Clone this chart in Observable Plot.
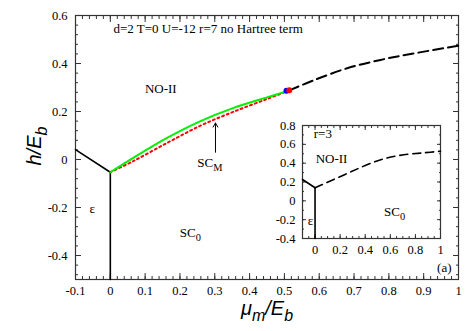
<!DOCTYPE html>
<html>
<head>
<meta charset="utf-8">
<script src="https://cdn.jsdelivr.net/npm/d3@7"></script>
<script src="https://cdn.jsdelivr.net/npm/@observablehq/plot@0.6"></script>
<style>
  html, body { margin: 0; padding: 0; background: #fff; }
  #chart { position: relative; width: 473px; height: 331px; overflow: hidden; background: #fff; }
  #chart svg { position: absolute; }
</style>
</head>
<body>
<div id="chart"></div>
<script>
// ---------- main panel data (μm/Eb , h/Eb) ----------
const mainBoundaryMu = [-0.1, 0];
const mainBoundaryH  = [0.041, -0.053];
const mainVerticalMu = [0, 0];
const mainVerticalH  = [-0.053, -0.5];
const greenMu = [0, 0.067, 0.163, 0.259, 0.354, 0.45, 0.506];
const greenH  = [-0.053, 0.008, 0.090, 0.160, 0.215, 0.259, 0.284];
const redMu = [0, 0.067, 0.163, 0.259, 0.354, 0.45, 0.514];
const redH  = [-0.053, -0.006, 0.069, 0.141, 0.199, 0.252, 0.288];
const dashedMu = [0.514, 0.584, 0.68, 0.776, 0.872, 1.0];
const dashedH  = [0.288, 0.330, 0.380, 0.415, 0.442, 0.474];
const pointMu = [0.506, 0.514];
const pointH  = [0.286, 0.289];
const pointColor = ["#0000ff", "#ff0000"];

// ---------- inset data (r=3) ----------
const insetBoundaryMu = [-0.1, 0];
const insetBoundaryH  = [0.227, 0.139];
const insetVerticalMu = [0, 0];
const insetVerticalH  = [0.139, -0.4];
const insetDashedMu = [0, 0.25, 0.4, 0.547, 0.707, 0.867, 1.0];
const insetDashedH  = [0.139, 0.287, 0.375, 0.446, 0.489, 0.510, 0.527];

// ---------- ticks ----------
const xTicks = [-0.1, 0, 0.1, 0.2, 0.3, 0.4, 0.5, 0.6, 0.7, 0.8, 0.9, 1];
const xTickLabels = ["-0.1", "0", "0.1", "0.2", "0.3", "0.4", "0.5", "0.6", "0.7", "0.8", "0.9", "1"];
const yTicks = [-0.4, -0.2, 0, 0.2, 0.4, 0.6];
const yTickLabels = ["-0.4", "-0.2", "0", "0.2", "0.4", "0.6"];
const insetXTicks = [0, 0.2, 0.4, 0.6, 0.8, 1];
const insetXTickLabels = ["0", "0.2", "0.4", "0.6", "0.8", "1"];
const insetYTicks = [-0.4, -0.2, 0, 0.2, 0.4, 0.6, 0.8];
const insetYTickLabels = ["-0.4", "-0.2", "0", "0.2", "0.4", "0.6", "0.8"];

// ---------- annotations ----------
const mainLabelText = ["d=2 T=0 U=-12 r=7 no Hartree term", "NO-II", "ε", "SC_{0}", "SC_{M}", "(a)"];
const mainLabelMu   = [0.009, 0.145, -0.052, 0.23, 0.25, 0.98];
const mainLabelH    = [0.546, 0.296, -0.204, -0.304, -0.012, -0.453];
const mainLabelAnchor = ["start", "middle", "middle", "middle", "start", "end"];
const arrowMu = [0.302, 0.302];
const arrowH  = [0.03, 0.152];
const insetLabelText = ["r=3", "NO-II", "ε", "SC_{0}"];
const insetLabelMu   = [-0.01, 0.005, -0.058, 0.55];
const insetLabelH    = [0.715, 0.443, -0.217, -0.12];
const yTitle = "h/E_{b}";
const xTitle = "μ_{m}/E_{b}";

const zip = (xs, ys) => xs.map((x, i) => ({x, y: ys[i]}));
const serif = "Liberation Serif";
const sans = "Liberation Sans";

function inwardTicks(xv, yv, size, color) {
  const common = {fill: "none", stroke: color, label: null, strokeWidth: 1};
  return [
    Plot.axisX(xv, {...common, anchor: "bottom", tickSize: size, dy: -size}),
    Plot.axisX(xv, {...common, anchor: "top", tickSize: size, dy: size}),
    Plot.axisY(yv, {...common, anchor: "left", tickSize: size, dx: size}),
    Plot.axisY(yv, {...common, anchor: "right", tickSize: size, dx: -size})
  ];
}
function labelMap(vals, labels) { const m = new Map(vals.map((v, i) => [v, labels[i]])); return v => m.get(v); }

const frameColor = "#333";

// minor tick positions
const xMinor = d3.range(-5, 51).map(i => i / 50);
const yMinor = d3.range(-12, 16).map(i => i / 25);
const insetXMinor = d3.range(-2, 21).map(i => i / 20);
const insetYMinor = d3.range(-4, 9).map(i => i / 10);

const mainLabels = mainLabelText.map((t, i) => ({t, x: mainLabelMu[i], y: mainLabelH[i], a: mainLabelAnchor[i]}));
const labelMarks = ["start", "middle", "end"].map(a =>
  Plot.text(mainLabels.filter(d => d.a === a), {x: "x", y: "y", text: "t", textAnchor: a, fontSize: 13, fill: "#000"}));

const main = Plot.plot({
  width: 473, height: 331,
  marginLeft: 75, marginRight: 15, marginTop: 15, marginBottom: 52,
  x: {domain: [-0.1, 1]},
  y: {domain: [-0.5, 0.6]},
  style: {fontSize: "12.5px", color: "#000", background: "transparent"},
  marks: [
    ...inwardTicks(xMinor, yMinor, 3, frameColor),
    ...inwardTicks(xTicks, yTicks, 6, frameColor),
    Plot.frame({stroke: frameColor, strokeWidth: 1.2}),
    Plot.axisX(xTicks, {anchor: "bottom", tickSize: 0, tickPadding: 7, tickFormat: labelMap(xTicks, xTickLabels), label: null, fontSize: 12.5, fill: "#000"}),
    Plot.axisY(yTicks, {anchor: "left", tickSize: 0, tickPadding: 8, tickFormat: labelMap(yTicks, yTickLabels), label: null, fontSize: 12.5, fill: "#000"}),
    Plot.line(zip(mainBoundaryMu, mainBoundaryH), {x: "x", y: "y", stroke: "#000", strokeWidth: 1.6}),
    Plot.line(zip(mainVerticalMu, mainVerticalH), {x: "x", y: "y", stroke: "#000", strokeWidth: 1.6}),
    Plot.line(zip(redMu, redH), {x: "x", y: "y", stroke: "#ff0000", strokeWidth: 2, strokeDasharray: "2,3", curve: "catmull-rom"}),
    Plot.line(zip(greenMu, greenH), {x: "x", y: "y", stroke: "#00f000", strokeWidth: 2, curve: "catmull-rom"}),
    Plot.line(zip(dashedMu, dashedH), {x: "x", y: "y", stroke: "#000", strokeWidth: 2, strokeDasharray: "10,5", curve: "catmull-rom"}),
    Plot.dot(pointMu.map((m, i) => ({x: m, y: pointH[i], c: pointColor[i]})), {x: "x", y: "y", fill: "c", r: 3, stroke: "none"}),
    Plot.arrow([{x1: arrowMu[0], y1: arrowH[0], x2: arrowMu[1], y2: arrowH[1]}], {x1: "x1", y1: "y1", x2: "x2", y2: "y2", stroke: "#000", strokeWidth: 1, headLength: 7}),
    ...labelMarks,
    Plot.text([yTitle], {text: d => d, frameAnchor: "left", textAnchor: "middle", dx: -40, rotate: -90, fontSize: 20, fontStyle: "italic", fill: "#000"}),
    Plot.text([xTitle], {text: d => d, frameAnchor: "bottom", textAnchor: "middle", dy: 35, fontSize: 20, fontStyle: "italic", fill: "#000"})
  ]
});
main.style.left = "0px"; main.style.top = "0px";

const insetLabels = insetLabelText.map((t, i) => ({t, x: insetLabelMu[i], y: insetLabelH[i]}));

const inset = Plot.plot({
  width: 190, height: 150,
  marginLeft: 42, marginRight: 10, marginTop: 10, marginBottom: 27,
  x: {domain: [-0.1, 1]},
  y: {domain: [-0.4, 0.8]},
  style: {fontSize: "12.5px", color: "#000", background: "transparent"},
  marks: [
    ...inwardTicks(insetXMinor, insetYMinor, 2, frameColor),
    ...inwardTicks(insetXTicks, insetYTicks, 4, frameColor),
    Plot.frame({stroke: frameColor, strokeWidth: 1.2}),
    Plot.axisX(insetXTicks, {anchor: "bottom", tickSize: 0, tickPadding: 7, tickFormat: labelMap(insetXTicks, insetXTickLabels), label: null, fontSize: 12.5, fill: "#000"}),
    Plot.axisY(insetYTicks, {anchor: "left", tickSize: 0, tickPadding: 7, tickFormat: labelMap(insetYTicks, insetYTickLabels), label: null, fontSize: 12.5, fill: "#000"}),
    Plot.line(zip(insetBoundaryMu, insetBoundaryH), {x: "x", y: "y", stroke: "#000", strokeWidth: 1.6}),
    Plot.line(zip(insetVerticalMu, insetVerticalH), {x: "x", y: "y", stroke: "#000", strokeWidth: 1.6}),
    Plot.line(zip(insetDashedMu, insetDashedH), {x: "x", y: "y", stroke: "#000", strokeWidth: 1.6, strokeDasharray: "8,5", curve: "catmull-rom"}),
    Plot.text(insetLabels, {x: "x", y: "y", text: "t", textAnchor: "start", fontSize: 13, fill: "#000"})
  ]
});
inset.style.left = "260px"; inset.style.top = "115px";

const chart = document.getElementById("chart");
chart.appendChild(main);
chart.appendChild(inset);

// fonts: italic axis titles in sans, everything else in a Times-like serif
d3.selectAll("#chart text").each(function () {
  const italic = getComputedStyle(this).fontStyle === "italic";
  this.style.fontFamily = italic ? `"${sans}", sans-serif` : `"${serif}", serif`;
});

// render "_{...}" as subscripts
let yTitleNode = null;
d3.selectAll("#chart text").each(function () {
  const t = this.textContent;
  if (!t.includes("_{")) return;
  if (t === yTitle) yTitleNode = this;
  const fs = parseFloat(getComputedStyle(this).fontSize) || 12;
  const sel = d3.select(this);
  sel.text("");
  const re = /_\{([^}]*)\}/g;
  let last = 0, m;
  while ((m = re.exec(t)) !== null) {
    const before = t.slice(last, m.index);
    if (before) sel.append("tspan").text(before);
    sel.append("tspan").attr("baseline-shift", -0.28 * fs).attr("font-size", 0.8 * fs).text(m[1]);
    last = re.lastIndex;
  }
  const rest = t.slice(last);
  if (rest) sel.append("tspan").text(rest);
});

// centre the rotated y-axis title on the frame's vertical middle
if (yTitleNode) {
  const svgRect = main.getBoundingClientRect();
  const r = yTitleNode.getBoundingClientRect();
  const cx = r.left + r.width / 2 - svgRect.left;
  const cy = r.top + r.height / 2 - svgRect.top;
  const targetX = 36, targetY = 146;
  const prev = yTitleNode.getAttribute("transform") || "";
  yTitleNode.setAttribute("transform", `translate(${targetX - cx},${targetY - cy}) ${prev}`);
}
</script>
</body>
</html>
